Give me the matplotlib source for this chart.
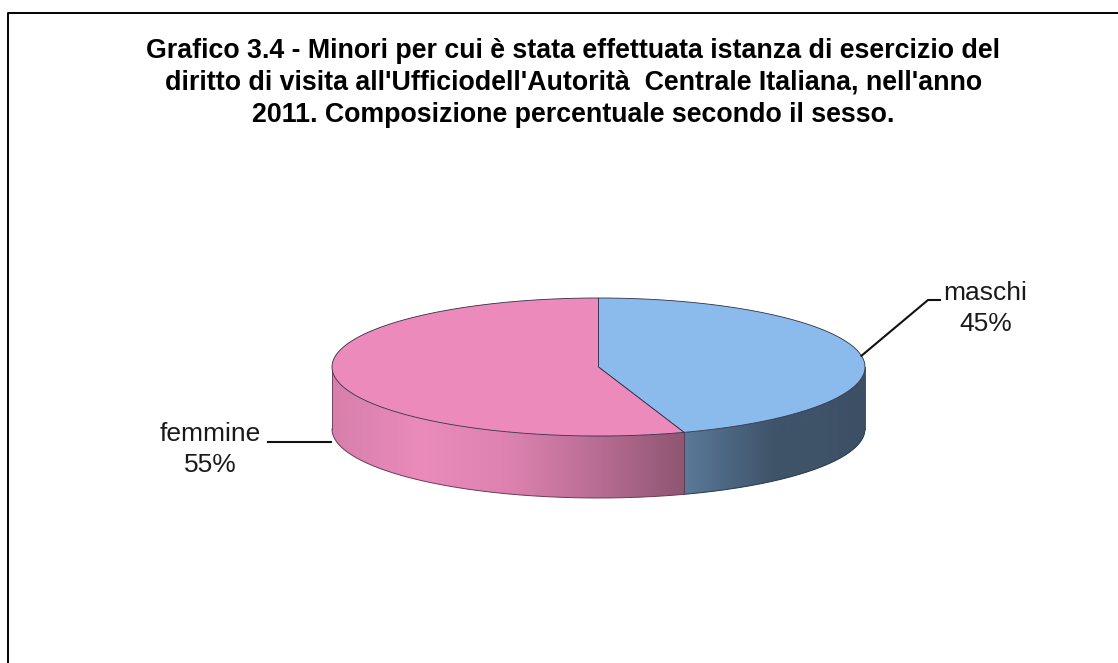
import numpy as np
import matplotlib
matplotlib.use("Agg")
import matplotlib.pyplot as plt
from matplotlib.colors import LinearSegmentedColormap
from matplotlib.patches import Polygon

# dati del grafico (le etichette li arrotondano)
categorie = ["maschi", "femmine"]
percentuali = [44.8, 55.2]
titolo = ("Grafico 3.4 - Minori per cui è stata effettuata istanza di esercizio del\n"
          "diritto di visita all'Ufficiodell'Autorità  Centrale Italiana, nell'anno\n"
          "2011. Composizione percentuale secondo il sesso.")

# geometria della torta, in pixel dell'immagine
CX, CY = 598.5, 367
RX, RY = 266.5, 69
SPESSORE = 62

colori_top = {"maschi": "#8bbbec", "femmine": "#ec8abb"}
# rampe del fianco, da sinistra a destra
rampe = {
    "maschi": ["#5b7a99", "#4c6680", "#3f5369", "#3f5369", "#3c4f64"],
    "femmine": ["#d77fab", "#ea8bbb", "#dd82b0", "#b86d94", "#8f5672"],
}
bordi = {"maschi": "#24384d", "femmine": "#6b3a55"}

plt.rcParams["font.family"] = ["Liberation Sans", "DejaVu Sans"]

fig = plt.figure(figsize=(11.18, 6.63), dpi=100)
ax = fig.add_axes([0, 0, 1, 1])

# cornice: a destra e in basso esce dall'immagine
ax.plot([7.5, 7.5, 1118], [663, 12.5, 12.5], color="black", lw=1.4, zorder=1)


def punto(theta, dy=0):
    # theta misurato in senso orario dalle ore 12
    return CX + RX * np.sin(theta), CY - RY * np.cos(theta) + dy


frazioni = np.array(percentuali) / sum(percentuali)
angoli = np.concatenate([[0], np.cumsum(frazioni) * 2 * np.pi])

# fianco visibile: solo la parte anteriore, da ore 3 a ore 9
for nome, a0, a1 in zip(categorie, angoli[:-1], angoli[1:]):
    t0, t1 = max(a0, np.pi / 2), min(a1, 3 * np.pi / 2)
    t = np.linspace(t0, t1, 300)
    x, y = punto(t)
    cmap = LinearSegmentedColormap.from_list(nome, rampe[nome])
    # sfumatura orizzontale ritagliata sulla forma del fianco
    sagoma = Polygon(np.c_[np.r_[x, x[::-1]], np.r_[y, y[::-1] + SPESSORE]],
                     closed=True, transform=ax.transData, facecolor="none", edgecolor="none")
    ax.add_patch(sagoma)
    img = ax.imshow(np.linspace(0, 1, 256).reshape(1, -1), cmap=cmap, aspect="auto",
                    extent=[x.min(), x.max(), y.max() + SPESSORE, y.min()], zorder=2)
    img.set_clip_path(sagoma)
    ax.plot(x, y + SPESSORE, color=bordi[nome], lw=0.7, zorder=3)
    ax.plot([x[0], x[0]], [y[0], y[0] + SPESSORE], color=bordi[nome], lw=0.6, zorder=3)
    ax.plot([x[-1], x[-1]], [y[-1], y[-1] + SPESSORE], color=bordi[nome], lw=0.6, zorder=3)

# faccia superiore
for nome, a0, a1 in zip(categorie, angoli[:-1], angoli[1:]):
    t = np.linspace(a0, a1, 300)
    x, y = punto(t)
    ax.fill(np.r_[CX, x], np.r_[CY, y], facecolor=colori_top[nome],
            edgecolor="#2f2f45", lw=0.6, zorder=4)

# linee guida delle etichette
xm, ym = punto((angoli[0] + angoli[1]) / 2)
ax.plot([xm, 928, 940], [ym, 300, 300], color="#111111", lw=1.5, zorder=5)
ax.plot([268, 331], [442, 442], color="#111111", lw=1.5, zorder=1)

# etichette
ax.text(985.5, 308.5, f"{categorie[0]}\n{percentuali[0]:.0f}%", ha="center", va="center",
        fontsize=19, color="#1a1a1a", linespacing=1.34, zorder=6)
ax.text(210.5, 449.5, f"{categorie[1]}\n{percentuali[1]:.0f}%", ha="center", va="center",
        fontsize=19, color="#1a1a1a", linespacing=1.34, zorder=6)

# titolo
ax.text(573.5, 83, titolo, ha="center", va="center", fontsize=19.3, fontweight="bold",
        color="black", linespacing=1.28, zorder=6)

# imshow cambia i limiti: vanno fissati alla fine
ax.set_xlim(0, 1118)
ax.set_ylim(663, 0)
ax.axis("off")

fig.savefig("out.png", dpi=100, facecolor="white")
